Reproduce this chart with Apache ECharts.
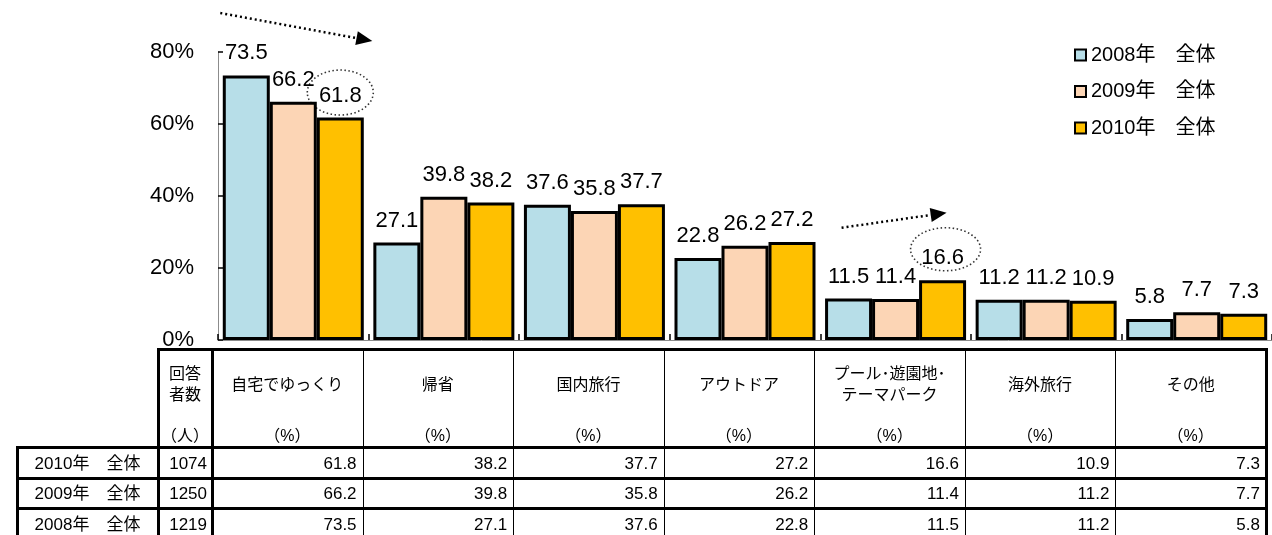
<!DOCTYPE html>
<html>
<head>
<meta charset="utf-8">
<script src="https://cdn.jsdelivr.net/npm/echarts@6/dist/echarts.min.js"></script>
<style>
  html, body { margin: 0; padding: 0; background: #fff; }
  #wrap { position: relative; width: 1272px; height: 535px; overflow: hidden;
          font-family: "Liberation Sans", Arial, "Noto Sans CJK JP", sans-serif; color: #000; }
  #chart { position: absolute; left: 0; top: 0; width: 1272px; height: 535px; }
  #table { position: absolute; left: 0; top: 0; width: 1272px; height: 535px; pointer-events: none; }
  .ln { position: absolute; background: #000; }
  .tx { position: absolute; white-space: pre; line-height: 21px; }
</style>
</head>
<body>
<div id="wrap">
  <div id="chart"></div>
  <div id="table"></div>
</div>
<script>
// ---- data ----
const categories = ['自宅でゆっくり', '帰省', '国内旅行', 'アウトドア', 'プール･遊園地･\nテーマパーク', '海外旅行', 'その他'];
const seriesNames = ['2008年　全体', '2009年　全体', '2010年　全体'];
const values2008 = [73.5, 27.1, 37.6, 22.8, 11.5, 11.2, 5.8];
const values2009 = [66.2, 39.8, 35.8, 26.2, 11.4, 11.2, 7.7];
const values2010 = [61.8, 38.2, 37.7, 27.2, 16.6, 10.9, 7.3];
const respondents = [1219, 1250, 1074];          // same order as seriesNames
const yTicks = [0, 20, 40, 60, 80];
const countHeader = '回答\n者数';
const countUnit = '（人）';
const pctUnit = '（%）';

// ---- styles ----
const FONT = '"Liberation Sans", Arial, "Noto Sans CJK JP", sans-serif';
const colors = ['#B7DEE8', '#FCD5B5', '#FFC000'];
const seriesValues = [values2008, values2009, values2010];

const chart = echarts.init(document.getElementById('chart'), null, { renderer: 'canvas' });

const option = {
  animation: false,
  textStyle: { fontFamily: FONT, color: '#000' },
  grid: { left: 218, top: 52, width: 1057, height: 288, containLabel: false },
  legend: {
    orient: 'vertical',
    left: 1069,
    top: 40,
    icon: 'rect',
    itemWidth: 11,
    itemHeight: 11,
    itemGap: 16.5,
    selectedMode: false,
    itemStyle: { borderColor: '#000', borderWidth: 2 },
    textStyle: { fontSize: 20, fontFamily: FONT, color: '#000' },
    data: seriesNames
  },
  xAxis: {
    type: 'category',
    data: categories,
    axisLabel: { show: false },
    axisLine: { show: true, lineStyle: { color: '#8c8c8c', width: 1 } },
    axisTick: { show: true, inside: true, length: 6, lineStyle: { color: '#000', width: 1.5 } },
    splitLine: { show: false }
  },
  yAxis: {
    type: 'value',
    min: yTicks[0],
    max: yTicks[yTicks.length - 1],
    interval: yTicks[1] - yTicks[0],
    axisLabel: { formatter: '{value}%', fontSize: 22, margin: 24, color: '#000', fontFamily: FONT },
    axisLine: { show: true, lineStyle: { color: '#8c8c8c', width: 1 } },
    axisTick: { show: true, inside: true, length: 5, lineStyle: { color: '#000', width: 1.5 } },
    splitLine: { show: false }
  },
  series: seriesNames.map((name, i) => ({
    name: name,
    type: 'bar',
    data: seriesValues[i],
    barWidth: 47,
    barGap: '0%',
    itemStyle: { color: colors[i], borderColor: '#000', borderWidth: 3 },
    label: {
      show: true,
      position: 'top',
      distance: 11,
      fontSize: 22,
      fontFamily: FONT,
      color: '#000',
      formatter: p => p.value.toFixed(1)
    }
  }))
};
chart.setOption(option);

// ---- dotted call-outs: ellipse around a value label plus a trend arrow ----
const annotations = [
  { series: 2, index: 0, dx: 0, dy: -25, rx: 33, ry: 22.5, arrowFrom: [-120, -79.5], arrowTo: [32, -51.5] },
  { series: 2, index: 4, dx: 3, dy: -31, rx: 35, ry: 21.5, arrowFrom: [-104, -21.5], arrowTo: [1, -36.5] }
];
const graphics = [];
annotations.forEach(a => {
  const L = chart.getModel().getSeriesByIndex(a.series).getData().getItemLayout(a.index);
  const cx = L.x + L.width / 2 + a.dx;
  const cy = Math.min(L.y, L.y + L.height) + a.dy;
  graphics.push({
    type: 'ellipse', silent: true,
    shape: { cx: cx, cy: cy, rx: a.rx, ry: a.ry },
    style: { fill: 'none', stroke: '#333', lineWidth: 1.6, lineDash: [1.5, 2.5] }
  });
  const x1 = cx + a.arrowFrom[0], y1 = cy + a.arrowFrom[1];
  const x2 = cx + a.arrowTo[0], y2 = cy + a.arrowTo[1];
  const len = Math.hypot(x2 - x1, y2 - y1);
  const ux = (x2 - x1) / len, uy = (y2 - y1) / len;
  const headL = 16, headW = 7;
  const bx = x2 - ux * headL, by = y2 - uy * headL;
  graphics.push({
    type: 'line', silent: true,
    shape: { x1: x1, y1: y1, x2: bx, y2: by },
    style: { stroke: '#000', lineWidth: 2.5, lineDash: [2, 3] }
  });
  graphics.push({
    type: 'polygon', silent: true,
    shape: { points: [[x2, y2], [bx - uy * headW, by + ux * headW], [bx + uy * headW, by - ux * headW]] },
    style: { fill: '#000' }
  });
});
chart.setOption({ graphic: graphics });

// ---- data table under the chart ----
const T = document.getElementById('table');
function line(x, y, w, h) {
  const d = document.createElement('div');
  d.className = 'ln';
  d.style.left = x + 'px'; d.style.top = y + 'px';
  d.style.width = w + 'px'; d.style.height = h + 'px';
  T.appendChild(d);
}
function text(str, left, width, centerY, align, size, pad) {
  const d = document.createElement('div');
  d.className = 'tx';
  const lines = str.split('\n').length;
  d.style.left = left + 'px';
  d.style.width = (width - (pad || 0)) + 'px';
  d.style.top = (centerY - lines * 21 / 2) + 'px';
  d.style.textAlign = align;
  d.style.fontSize = size + 'px';
  d.textContent = str;
  T.appendChild(d);
}

// column edges follow the category bands of the x axis
const c0 = chart.convertToPixel({ xAxisIndex: 0 }, 0);
const c1 = chart.convertToPixel({ xAxisIndex: 0 }, 1);
const band = c1 - c0;
const colLeft = i => c0 - band / 2 - 6 + i * band;
const tableRight = colLeft(categories.length);
const labelLeft = 17, countLeft = 158, countRight = colLeft(0);
const tableTop = 349, headBottom = 447, rowH = 30.5;
const THICK = 3, THIN = 1;

// horizontal rules
line(countLeft - 1, tableTop - 1, tableRight - countLeft + 3, THICK);
for (let r = 0; r < 4; r++) {
  const y = headBottom + r * rowH;
  line(labelLeft - 1, Math.round(y) - 1, tableRight - labelLeft + 3, THICK);
}
// vertical rules
line(labelLeft - 1, headBottom - 1, THICK, 200);
line(countLeft - 1, tableTop - 1, THICK, 200);
line(Math.round(countRight) - 1, tableTop - 1, THICK, 200);
for (let i = 1; i < categories.length; i++) line(Math.round(colLeft(i)), tableTop, THIN, 200);
line(Math.round(tableRight) - 1, tableTop - 1, THICK, 200);

// header
text(countHeader, countLeft, countRight - countLeft, 384, 'center', 16);
text(countUnit, countLeft, countRight - countLeft, 435, 'center', 16);
categories.forEach((c, i) => {
  text(c, colLeft(i), band, 384, 'center', 16);
  text(pctUnit, colLeft(i), band, 435, 'center', 16);
});

// body rows: newest year first
const rowOrder = [2, 1, 0];
rowOrder.forEach((s, r) => {
  const cy = headBottom + r * rowH + rowH / 2 + 1;
  text(seriesNames[s], labelLeft, countLeft - labelLeft, cy, 'center', 17);
  text(String(respondents[s]), countLeft, countRight - countLeft, cy, 'right', 17, 5);
  seriesValues[s].forEach((v, i) => {
    text(v.toFixed(1), colLeft(i), band, cy, 'right', 17, 6);
  });
});
</script>
</body>
</html>
